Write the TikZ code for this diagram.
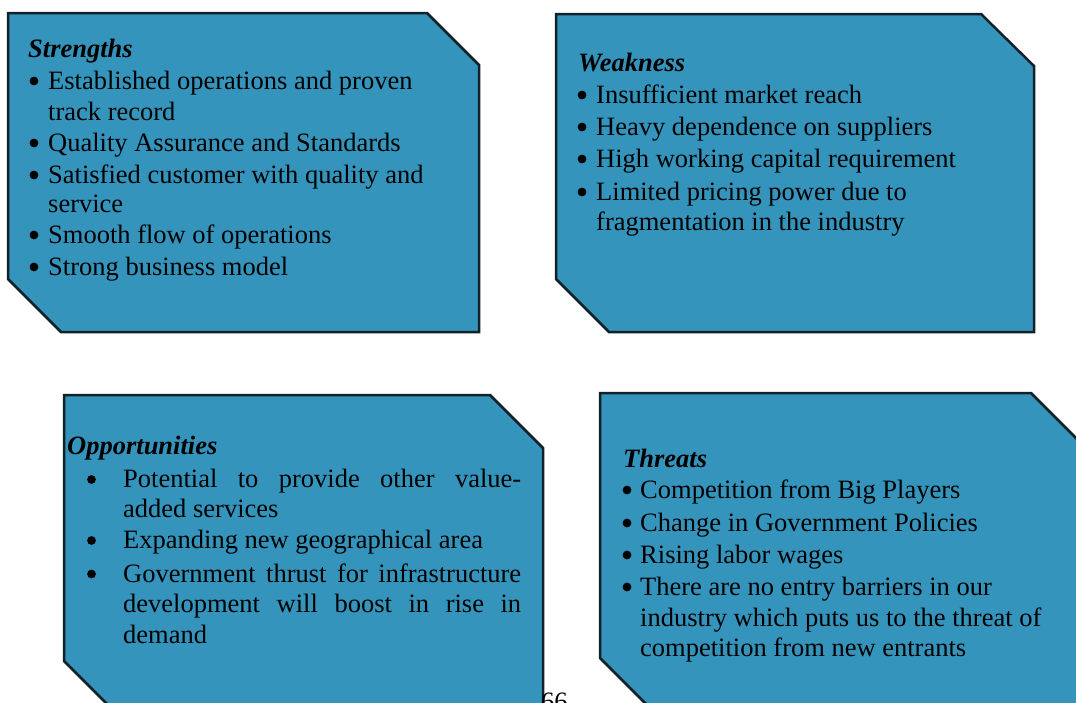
\documentclass[tikz,border=0pt]{standalone}
\usepackage{fontspec}
\setmainfont{Liberation Serif}
\definecolor{boxfill}{RGB}{52,148,188}
\definecolor{boxline}{RGB}{18,32,40}
\begin{document}
\begin{tikzpicture}[x=1pt,y=-1pt,
  swotbox/.style={fill=boxfill,draw=boxline,line width=2.5pt,line join=miter},
  txt/.style={anchor=base west,inner sep=0pt,font=\fontsize{26.5}{31}\selectfont},
  head/.style={anchor=base west,inner sep=0pt,font=\fontsize{26.5}{31}\selectfont\bfseries\itshape},
  dot/.style={circle,fill=black,inner sep=0pt,minimum size=8.8pt}]
\useasboundingbox (0,0) rectangle (1076,702);
\clip (0,0) rectangle (1076,702);
\fill[white] (0,0) rectangle (1076,702);

% boxes
\draw[swotbox] (8,13) -- (427,13) -- (479,65) -- (479,332) -- (61,332) -- (8,279) -- cycle;
\draw[swotbox] (556,14) -- (981,14) -- (1034,66) -- (1034,332) -- (609,332) -- (556,279) -- cycle;
\draw[swotbox] (64,395) -- (490,395) -- (543,448) -- (543,714) -- (117,714) -- (64,661) -- cycle;
\draw[swotbox] (600,393) -- (1031,393) -- (1090,452) -- (1090,711) -- (653,711) -- (600,658) -- cycle;

% Strengths
\node[head] (sh) at (28,57) {Strengths};
\node[dot] (sb1) at (34,81) {};
\node[txt] (s1) at (48,89) {Established operations and proven};
\node[txt] (s1b) at (48,120) {track record};
\node[dot] (sb2) at (34,143) {};
\node[txt] (s2) at (48,151) {Quality Assurance and Standards};
\node[dot] (sb3) at (34,175) {};
\node[txt] (s3) at (48,183) {Satisfied customer with quality and};
\node[txt] (s3b) at (48,212) {service};
\node[dot] (sb4) at (34,235) {};
\node[txt] (s4) at (48,243) {Smooth flow of operations};
\node[dot] (sb5) at (34,267) {};
\node[txt] (s5) at (48,275) {Strong business model};

% Weakness
\node[head] (wh) at (578,71) {Weakness};
\node[dot] (wb1) at (582,95) {};
\node[txt] (w1) at (596,103) {Insufficient market reach};
\node[dot] (wb2) at (582,127) {};
\node[txt] (w2) at (596,135) {Heavy dependence on suppliers};
\node[dot] (wb3) at (582,159) {};
\node[txt] (w3) at (596,167) {High working capital requirement};
\node[dot] (wb4) at (582,192) {};
\node[txt] (w4) at (596,200) {Limited pricing power due to};
\node[txt] (w4b) at (596,230) {fragmentation in the industry};

% Opportunities
\node[head] (oh) at (67,454) {Opportunities};
\node[dot] (ob1) at (91.5,479.5) {};
\node[txt] (o1) at (123,487) {\hbox to 398pt{Potential\hfill to\hfill provide\hfill other\hfill value-}};
\node[txt] (o1b) at (123,517) {added services};
\node[dot] (ob2) at (91.5,540.5) {};
\node[txt] (o2) at (123,548) {Expanding new geographical area};
\node[dot] (ob3) at (91.5,574) {};
\node[txt] (o3) at (123,582) {\hbox to 398pt{Government\hfill thrust\hfill for\hfill infrastructure}};
\node[txt] (o3b) at (123,612) {\hbox to 398pt{development\hfill will\hfill boost\hfill in\hfill rise\hfill in}};
\node[txt] (o3c) at (123,643) {demand};

% Threats
\node[head] (th) at (623,467) {Threats};
\node[dot] (tb1) at (627,490) {};
\node[txt] (t1) at (640,498) {Competition from Big Players};
\node[dot] (tb2) at (627,523) {};
\node[txt] (t2) at (640,531) {Change in Government Policies};
\node[dot] (tb3) at (627,555) {};
\node[txt] (t3) at (640,563) {Rising labor wages};
\node[dot] (tb4) at (627,587) {};
\node[txt] (t4) at (640,595) {There are no entry barriers in our};
\node[txt] (t4b) at (640,626) {industry which puts us to the threat of};
\node[txt] (t4c) at (640,656) {competition from new entrants};

% page number (cut off by the page edge, as in the reference)
\node[txt] (pg) at (541,710) {66};
\end{tikzpicture}
\end{document}
